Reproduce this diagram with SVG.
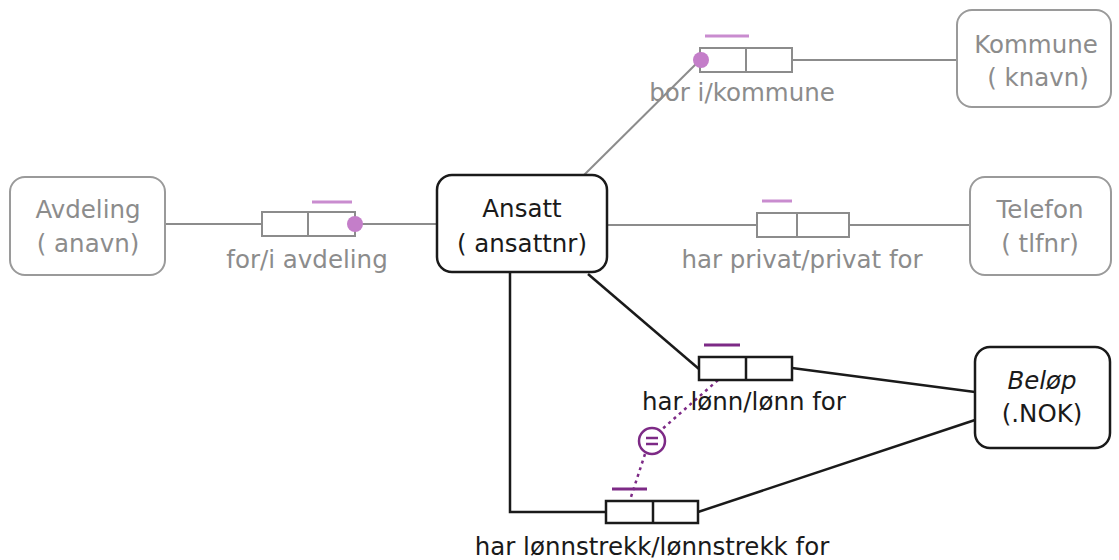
<svg xmlns="http://www.w3.org/2000/svg" width="1119" height="560" viewBox="0 0 1119 560">
<style>
.ng{fill:#fff;stroke:#9a9a9a;stroke-width:2}
.nb{fill:#fff;stroke:#1a1a1a;stroke-width:2.5}
.t{font-family:"DejaVu Sans","Liberation Sans",sans-serif;font-size:24.5px;text-anchor:middle}
.tg{fill:#8c8c8c}
.tb{fill:#1a1a1a}
.cg{stroke:#8c8c8c;stroke-width:2;fill:none}
.cb{stroke:#1a1a1a;stroke-width:2.5;fill:none}
.rg{fill:#fff;stroke:#8c8c8c;stroke-width:2}
.rb{fill:#fff;stroke:#1a1a1a;stroke-width:2.5}
.ul{stroke:#c98ccf;stroke-width:3}
.ud{stroke:#7d2a86;stroke-width:3}
.dot{fill:#c47ec9}
.eq{stroke:#7d2a86;stroke-width:2.5;fill:none}
</style>
<rect width="1119" height="560" fill="#fff"/>
<g id="connectors">
<line class="cg" x1="583" y1="176" x2="700" y2="60"/>
<line class="cg" x1="792" y1="60" x2="957" y2="60"/>
<line class="cg" x1="165" y1="224" x2="262" y2="224"/>
<line class="cg" x1="355" y1="224" x2="437" y2="224"/>
<line class="cg" x1="607" y1="225" x2="757" y2="225"/>
<line class="cg" x1="849" y1="225" x2="970" y2="225"/>
<line class="cb" x1="588" y1="274" x2="699" y2="369"/>
<line class="cb" x1="792" y1="368" x2="975" y2="392"/>
<polyline class="cb" points="510,272 510,512 606,512"/>
<line class="cb" x1="698" y1="512" x2="975" y2="420"/>
<line class="eq" stroke-width="3" stroke-dasharray="3,4" x1="718" y1="380" x2="660" y2="431"/>
<line class="eq" stroke-width="3" stroke-dasharray="3,4" x1="645" y1="454" x2="630" y2="500"/>
<circle class="eq" cx="652" cy="441" r="13"/>
<line class="eq" x1="646" y1="438" x2="658" y2="438"/>
<line class="eq" x1="646" y1="444" x2="658" y2="444"/>
</g>
<g id="kommune">
<rect class="ng" x="957" y="10" width="154" height="97" rx="15"/>
<text class="t tg" x="1036" y="53">Kommune</text>
<text class="t tg" x="1038" y="86">( knavn)</text>
</g>
<g id="avdeling">
<rect class="ng" x="10" y="177" width="155" height="98" rx="15"/>
<text class="t tg" x="88" y="218">Avdeling</text>
<text class="t tg" x="88" y="252">( anavn)</text>
</g>
<g id="ansatt">
<rect class="nb" x="437" y="175" width="170" height="97" rx="15"/>
<text class="t tb" x="522" y="217">Ansatt</text>
<text class="t tb" x="522" y="252">( ansattnr)</text>
</g>
<g id="telefon">
<rect class="ng" x="970" y="177" width="141" height="98" rx="15"/>
<text class="t tg" x="1040" y="218">Telefon</text>
<text class="t tg" x="1040" y="252">( tlfnr)</text>
</g>
<g id="belop">
<rect class="nb" x="975" y="347" width="135" height="101" rx="15"/>
<text class="t tb" x="1042" y="389" font-style="italic">Beløp</text>
<text class="t tb" x="1042" y="422">(.NOK)</text>
</g>
<g id="fact-bor">
<rect class="rg" x="700" y="48" width="92" height="24"/>
<line class="cg" x1="746" y1="48" x2="746" y2="72"/>
<line class="ul" x1="705" y1="36" x2="749" y2="36"/>
<circle class="dot" cx="701" cy="60" r="8"/>
<text class="t tg" x="742" y="101">bor i/kommune</text>
</g>
<g id="fact-avdeling">
<rect class="rg" x="262" y="212" width="93" height="24"/>
<line class="cg" x1="308" y1="212" x2="308" y2="236"/>
<line class="ul" x1="312" y1="202" x2="352" y2="202"/>
<circle class="dot" cx="355" cy="224" r="8"/>
<text class="t tg" x="307" y="268">for/i avdeling</text>
</g>
<g id="fact-telefon">
<rect class="rg" x="757" y="213" width="92" height="24"/>
<line class="cg" x1="797" y1="213" x2="797" y2="237"/>
<line class="ul" x1="762" y1="201" x2="792" y2="201"/>
<text class="t tg" x="802" y="268">har privat/privat for</text>
</g>
<g id="fact-lonn">
<rect class="rb" x="699" y="357" width="93" height="23"/>
<line class="cb" x1="746" y1="357" x2="746" y2="380"/>
<line class="ud" x1="704" y1="345" x2="740" y2="345"/>
<text class="t tb" x="744" y="410">har lønn/lønn for</text>
</g>
<g id="fact-lonnstrekk">
<rect class="rb" x="606" y="501" width="92" height="22"/>
<line class="cb" x1="653" y1="501" x2="653" y2="523"/>
<line class="ud" x1="612" y1="489" x2="647" y2="489"/>
<text class="t tb" x="652" y="555">har lønnstrekk/lønnstrekk for</text>
</g>
</svg>
